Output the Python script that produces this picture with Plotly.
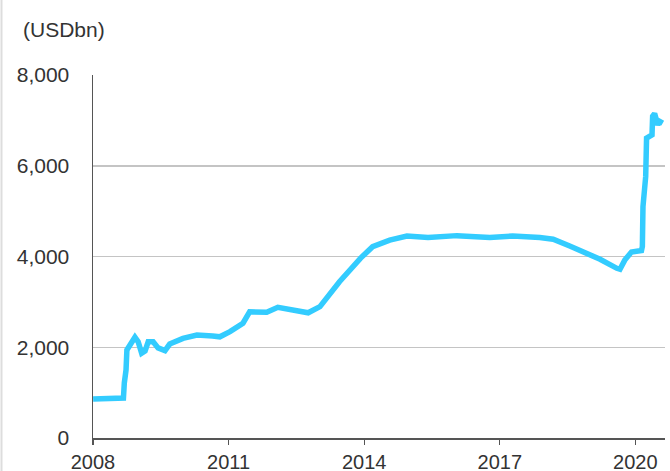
import plotly.graph_objects as go

dates = [
    "2008-01-02", "2008-03-05", "2008-05-07", "2008-07-02", "2008-08-27", "2008-09-03",
    "2008-09-10", "2008-09-24", "2008-10-01", "2008-11-12", "2008-12-05", "2008-12-31",
    "2009-01-28", "2009-02-25", "2009-03-22", "2009-05-01", "2009-06-10", "2009-08-05",
    "2009-09-12", "2009-12-28", "2010-04-20", "2010-08-25", "2010-10-22", "2011-01-12",
    "2011-04-27", "2011-06-20", "2011-11-05", "2012-02-03", "2012-07-05", "2012-10-05",
    "2013-01-08", "2013-06-15", "2013-12-01", "2014-03-10", "2014-07-26", "2014-12-12",
    "2015-06-01", "2016-01-20", "2016-10-12", "2017-04-15", "2017-11-20", "2018-03-08",
    "2018-07-20", "2018-12-05", "2019-03-22", "2019-08-05", "2019-08-30", "2019-10-08",
    "2019-12-01", "2020-02-20", "2020-02-27", "2020-03-03", "2020-03-25", "2020-04-01",
    "2020-05-15", "2020-05-20", "2020-06-05", "2020-07-01", "2020-07-15", "2020-08-10",
]
values = [
    860, 865, 870, 872, 875, 880,
    1210, 1500, 1940, 2160, 2220, 2120,
    1870, 1920, 2120, 2120, 1985, 1925,
    2070, 2195, 2270, 2250, 2230, 2345,
    2530, 2780, 2770, 2880, 2805, 2760,
    2895, 3445, 3960, 4215, 4360, 4450,
    4420, 4460, 4420, 4450, 4420, 4380,
    4230, 4070, 3940, 3740, 3720, 3920,
    4100, 4130, 4220, 5100, 5765, 6610,
    6680, 7090, 7150, 6900, 6980, 6940,
]

y_ticks = [0, 2000, 4000, 6000, 8000]
y_tick_labels = ["0", "2,000", "4,000", "6,000", "8,000"]
x_ticks = ["2008-01-01", "2011-01-01", "2014-01-01", "2017-01-01", "2020-01-01"]
x_tick_labels = ["2008", "2011", "2014", "2017", "2020"]
unit_label = "(USDbn)"

font_family = "Liberation Sans, Arial, sans-serif"
text_color = "#333333"

fig = go.Figure()
fig.add_trace(go.Scatter(
    x=dates, y=values, mode="lines",
    line=dict(color="#33CCFF", width=5.5),
    hoverinfo="skip", showlegend=False,
))

fig.update_layout(
    width=670, height=471,
    margin=dict(l=93, r=5, t=75, b=33),
    paper_bgcolor="white", plot_bgcolor="white",
    font=dict(family=font_family, size=20, color=text_color),
    xaxis=dict(
        type="date",
        range=["2008-01-01", "2020-08-28"],
        tickvals=x_ticks, ticktext=x_tick_labels,
        ticks="outside", ticklen=5, tickwidth=1.2, tickcolor="#555555",
        showline=True, linecolor="#555555", linewidth=1.5,
        showgrid=False, zeroline=False, automargin=False,
        tickfont=dict(size=20, color=text_color),
    ),
    yaxis=dict(
        range=[0, 8000],
        tickvals=y_ticks, ticktext=y_tick_labels,
        ticks="", ticklabelstandoff=18,
        showline=True, linecolor="#555555", linewidth=1.5,
        showgrid=True, gridcolor="#c4c4c4", gridwidth=1.5,
        zeroline=False, automargin=False,
        tickfont=dict(size=21, color=text_color),
    ),
    annotations=[dict(
        text=unit_label, xref="paper", yref="paper",
        x=(21 - 93) / 572, y=1 + (75 - 30) / 363,
        xanchor="left", yanchor="middle", showarrow=False,
        font=dict(size=21, color=text_color, family=font_family),
    )],
    shapes=[dict(
        type="line", xref="paper", yref="paper",
        x0=(1.5 - 93) / 572, x1=(1.5 - 93) / 572,
        y0=-33 / 363, y1=1 + 75 / 363,
        line=dict(color="#dddddd", width=2),
    )],
)

fig.write_html(
    "out.html",
    config={"displayModeBar": False, "staticPlot": True},
    post_script="document.body.style.margin='0';document.body.style.overflow='hidden';",
)
